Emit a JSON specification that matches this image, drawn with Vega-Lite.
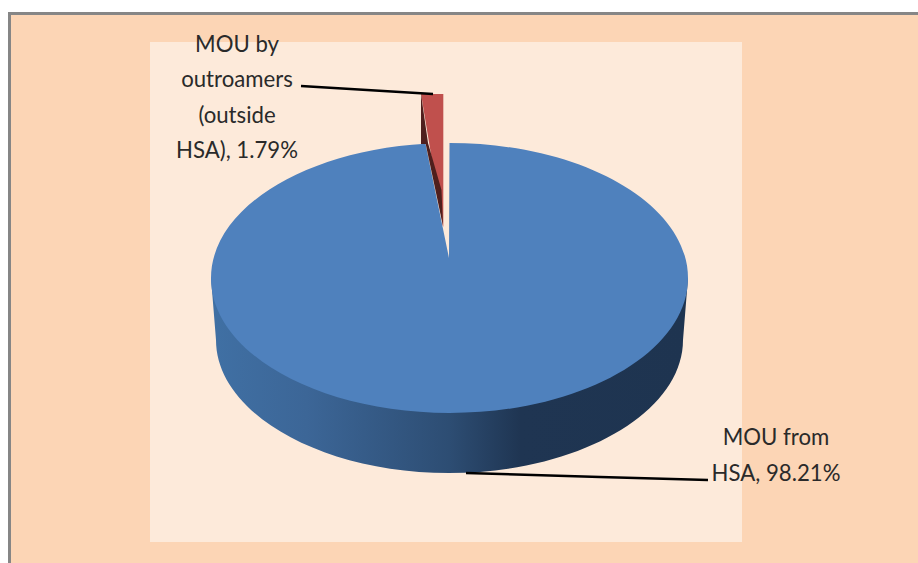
{
"$schema":"https://vega.github.io/schema/vega-lite/v6.json",
"width":918,"height":563,"padding":0,"autosize":{"type":"none"},
"background":"#ffffff",
"config":{"view":{"stroke":null}},
"data":{"values":[
{"slice":"MOU from HSA","share":98.21,"label":"MOU from\nHSA, 98.21%"},
{"slice":"MOU by outroamers (outside HSA)","share":1.79,"label":"MOU by\noutroamers\n(outside\nHSA), 1.79%"}
]},
"layer":[
{"data":{"values":[{"panel":"chart"}]},"mark":{"type":"point","shape":"M-451 -269.5H470V290H-451Z","size":4,"filled":true,"fill":"#868686","opacity":1}},
{"data":{"values":[{"panel":"chart"}]},"mark":{"type":"point","shape":"M-448 -266.5H470V290H-448Z","size":4,"filled":true,"fill":"#FCD5B5","opacity":1}},
{"data":{"values":[{"panel":"plot"}]},"mark":{"type":"point","shape":"M-309 -239.5H283V260.5H-309Z","size":4,"filled":true,"fill":"#FDEADA","opacity":1}},
{"transform":[{"filter":"datum.share>50"}],"mark":{"type":"point","shape":"M-248 -3.5L-243 58.5C-243 131.5 -138 191.5 -10 191.5C119 191.5 224 131.5 224 58.5L229 -3.5Z","size":4,"filled":true,"opacity":1,
 "fill":{"gradient":"linear","x1":0,"y1":0,"x2":1,"y2":0,"stops":[{"offset":0,"color":"#4070A4"},{"offset":0.2,"color":"#3C6697"},{"offset":0.5,"color":"#2D4D73"},{"offset":0.65,"color":"#1F3552"},{"offset":1,"color":"#1E3450"}]}}},
{"transform":[{"filter":"datum.share>50"}],"mark":{"type":"point","shape":"M-10 -23.5L-9.5 -138.5A238.5 135 0 0 1 -9.5 131.5A238.5 135 0 0 1 -248 -3.5A238.5 135 0 0 1 -33.5 -137.81Z","size":4,"filled":true,"fill":"#4F81BD","opacity":1}},
{"transform":[{"filter":"datum.share<50"}],"mark":{"type":"point","shape":"M-38 -187.5H-15.7V-55H-16Z","size":4,"filled":true,"fill":"#C0504D","opacity":1}},
{"transform":[{"filter":"datum.share<50"}],"mark":{"type":"point","shape":"M-38 -187.5L-31 -138.5L-17.5 -91.5L-16 -55.5L-33.3 -137.5H-38Z","size":4,"filled":true,"fill":"#4F1F1D","opacity":1}},
{"transform":[{"filter":"datum.share<50"}],"mark":{"type":"point","shape":"M-158 -195.5L-26 -187.5","size":4,"filled":false,"stroke":"#000000","strokeWidth":2.5,"opacity":1}},
{"transform":[{"filter":"datum.share>50"}],"mark":{"type":"point","shape":"M7 191.5L141 195.5L249 198.5","size":4,"filled":false,"stroke":"#000000","strokeWidth":2.5,"opacity":1}},
{"transform":[{"filter":"datum.share<50"}],"mark":{"type":"text","lineBreak":"\n","font":"Lato","fontSize":22.2,"lineHeight":35.5,"color":"#2A2A2A","align":"center","baseline":"top","dx":-222,"dy":-248},"encoding":{"text":{"field":"label","type":"nominal"}}},
{"transform":[{"filter":"datum.share>50"}],"mark":{"type":"text","lineBreak":"\n","font":"Lato","fontSize":22.2,"lineHeight":36,"color":"#2A2A2A","align":"center","baseline":"top","dx":317,"dy":145},"encoding":{"text":{"field":"label","type":"nominal"}}}
]
}
